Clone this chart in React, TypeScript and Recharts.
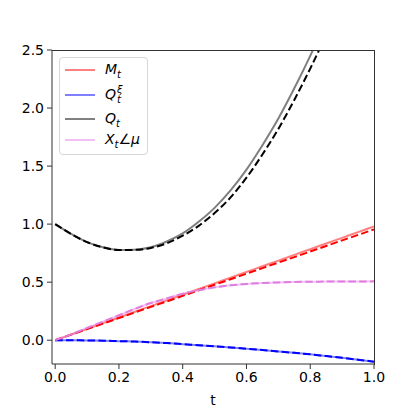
import React from "react";
import { LineChart, Line, XAxis, YAxis } from "recharts";

// time grid
const T = [0, 0.05, 0.1, 0.15, 0.2, 0.25, 0.3, 0.35, 0.4, 0.45, 0.5, 0.55, 0.6, 0.65, 0.7, 0.75, 0.8, 0.85, 0.9, 0.95, 1.0];

// solid reference curves (alpha 0.5) and dashed estimates
const mSolid = [0, 0.049, 0.098, 0.147, 0.196, 0.245, 0.294, 0.343, 0.392, 0.441, 0.49, 0.539, 0.588, 0.637, 0.686, 0.735, 0.784, 0.833, 0.882, 0.931, 0.98];
const mDashed = [0, 0.048, 0.096, 0.143, 0.191, 0.239, 0.287, 0.334, 0.382, 0.43, 0.478, 0.525, 0.573, 0.621, 0.669, 0.716, 0.764, 0.812, 0.86, 0.907, 0.955];
const qXi = [0, -0.001, -0.002, -0.004, -0.008, -0.012, -0.018, -0.025, -0.034, -0.043, -0.052, -0.062, -0.073, -0.085, -0.097, -0.109, -0.122, -0.137, -0.152, -0.168, -0.185];
const qSolid = [1.0, 0.915, 0.845, 0.8, 0.778, 0.78, 0.8, 0.85, 0.92, 1.02, 1.14, 1.29, 1.47, 1.68, 1.91, 2.17, 2.45, 2.75, null, null, null];
const qDashed = [1.0, 0.915, 0.845, 0.8, 0.777, 0.778, 0.795, 0.835, 0.9, 0.985, 1.095, 1.23, 1.4, 1.6, 1.82, 2.07, 2.34, 2.63, null, null, null];
const xMu = [0, 0.05, 0.105, 0.16, 0.215, 0.27, 0.32, 0.36, 0.4, 0.43, 0.455, 0.473, 0.485, 0.493, 0.498, 0.502, 0.504, 0.505, 0.506, 0.506, 0.507];

const xTicks = [0, 0.2, 0.4, 0.6, 0.8, 1.0];
const yTicks = [0, 0.5, 1.0, 1.5, 2.0, 2.5];

const data = T.map((t, i) => ({
  t,
  mSolid: mSolid[i],
  mDashed: mDashed[i],
  qXi: qXi[i],
  qSolid: qSolid[i],
  qDashed: qDashed[i],
  xMu: xMu[i],
}));

const FONT = "'DejaVu Sans', sans-serif";
const tickStyle = { fill: "#000", fontSize: 14, fontFamily: FONT };
const DASH = "7.5 3.3";

const legendItems = [
  { color: "#ff8080", top: 12, label: <span><i>M</i><sub style={{ fontSize: 10 }}><i>t</i></sub></span> },
  { color: "#8080ff", top: 37, label: <span><i>Q</i><span style={{ display: "inline-flex", flexDirection: "column", verticalAlign: "middle", lineHeight: "10px", fontSize: 10, marginLeft: 1 }}><i>ξ</i><i>t</i></span></span> },
  { color: "#808080", top: 61, label: <span><i>Q</i><sub style={{ fontSize: 10 }}><i>t</i></sub></span> },
  { color: "#f4bff4", top: 82, label: <span><i>X</i><sub style={{ fontSize: 10 }}><i>t</i></sub>∠<i>μ</i></span> },
];

export default function App() {
  return (
    <div style={{ position: "absolute", left: 0, top: 0, width: 416, height: 416, background: "#fff", fontFamily: FONT }}>
      <LineChart width={416} height={416} data={data} margin={{ top: 50, right: 42, bottom: 0, left: 0 }}>
        <XAxis
          dataKey="t"
          type="number"
          domain={[-0.01, 1]}
          ticks={xTicks}
          tickFormatter={(v: number) => v.toFixed(1)}
          allowDataOverflow
          height={52}
          stroke="#333"
          tickSize={5}
          tickMargin={3}
          tick={tickStyle}
          label={{ value: "t", position: "insideBottom", offset: 11, style: { fontSize: 14, fontFamily: FONT, fill: "#000" } }}
        />
        <YAxis
          type="number"
          domain={[-0.205, 2.5]}
          ticks={yTicks}
          tickFormatter={(v: number) => v.toFixed(1)}
          allowDataOverflow
          width={52}
          stroke="#333"
          tickSize={5}
          tickMargin={3}
          tick={tickStyle}
        />

        <Line dataKey="mSolid" stroke="#ff0000" strokeOpacity={0.5} strokeWidth={2} dot={false} type="monotone" isAnimationActive={false} />
        <Line dataKey="qXi" stroke="#0000ff" strokeOpacity={0.5} strokeWidth={2} dot={false} type="monotone" isAnimationActive={false} />
        <Line dataKey="qSolid" stroke="#000000" strokeOpacity={0.5} strokeWidth={2} dot={false} type="monotone" isAnimationActive={false} />
        <Line dataKey="xMu" stroke="#ee82ee" strokeOpacity={0.5} strokeWidth={2} dot={false} type="monotone" isAnimationActive={false} />

        <Line dataKey="mDashed" stroke="#ff0000" strokeWidth={2} strokeDasharray={DASH} dot={false} type="monotone" isAnimationActive={false} />
        <Line dataKey="qXi" stroke="#0000ff" strokeWidth={2} strokeDasharray={DASH} dot={false} type="monotone" isAnimationActive={false} />
        <Line dataKey="qDashed" stroke="#000000" strokeWidth={2} strokeDasharray={DASH} dot={false} type="monotone" isAnimationActive={false} />
        <Line dataKey="xMu" stroke="#dd80dd" strokeWidth={2} strokeDasharray={DASH} dot={false} type="monotone" isAnimationActive={false} />
      </LineChart>

      {/* top and right spines */}
      <div
        style={{
          position: "absolute",
          left: 52,
          top: 50,
          width: 323,
          height: 315,
          boxSizing: "border-box",
          borderTop: "1px solid #333",
          borderRight: "1px solid #333",
          pointerEvents: "none",
        }}
      />

      <div
        style={{
          position: "absolute",
          left: 59,
          top: 57,
          width: 89,
          height: 98,
          boxSizing: "border-box",
          border: "1px solid #d6d6d6",
          borderRadius: 4,
          background: "rgba(255,255,255,0.8)",
        }}
      >
        {legendItems.map((it, i) => (
          <div key={i} style={{ position: "absolute", left: 0, top: it.top, width: 89 }}>
            <div style={{ position: "absolute", left: 5, top: -1, width: 30, height: 2, background: it.color }} />
            <div style={{ position: "absolute", left: 45, top: -10, fontSize: 14, lineHeight: "18px", whiteSpace: "nowrap", color: "#000" }}>
              {it.label}
            </div>
          </div>
        ))}
      </div>
    </div>
  );
}
